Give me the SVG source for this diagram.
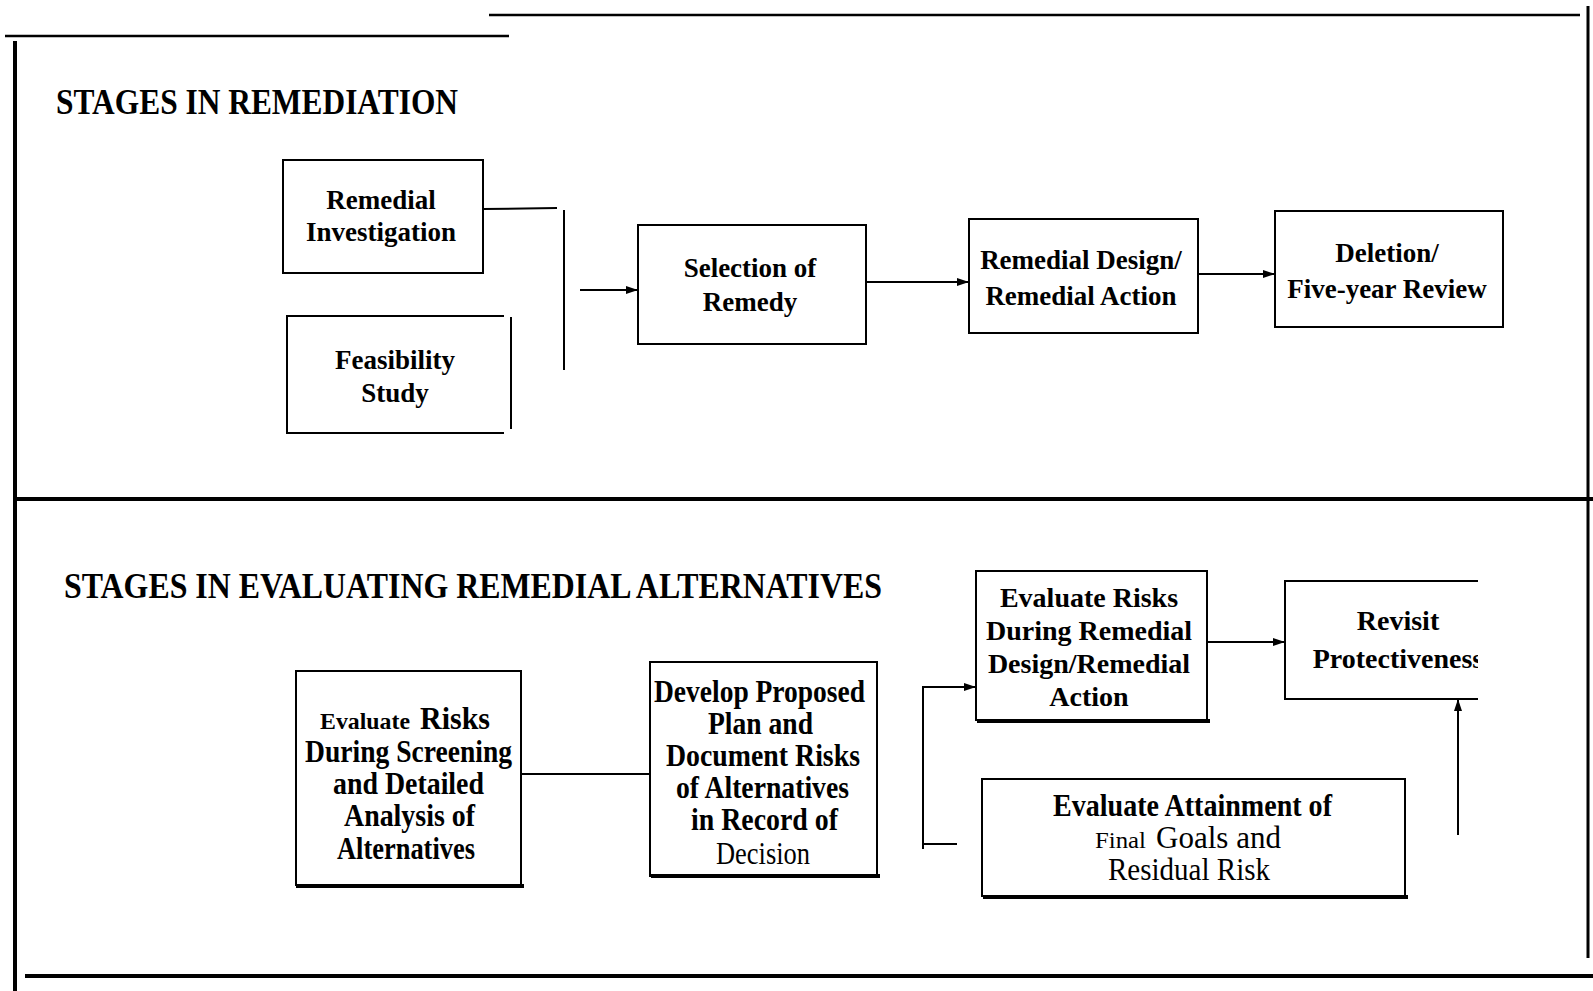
<svg xmlns="http://www.w3.org/2000/svg" width="1593" height="991" viewBox="0 0 1593 991">
<style>
.bg{fill:#fff}
.frame{stroke:#000;fill:none;stroke-linecap:butt}
.box{fill:none;stroke:#000;stroke-width:2}
.thick{stroke:#000;stroke-width:4;fill:none}
.conn{stroke:#000;stroke-width:2;fill:none}
.h{font-family:"Liberation Serif",serif;font-weight:bold;font-size:36px;fill:#000}
.t1{font-family:"Liberation Serif",serif;font-weight:bold;font-size:27px;text-anchor:middle;fill:#000}
.t2{font-family:"Liberation Serif",serif;font-weight:bold;font-size:28px;text-anchor:middle;fill:#000}
.b{font-family:"Liberation Serif",serif;font-weight:bold;font-size:31px;fill:#000}
.bs{font-family:"Liberation Serif",serif;font-weight:bold;font-size:24px;fill:#000}
.r{font-family:"Liberation Serif",serif;font-weight:normal;font-size:31px;fill:#000}
.rs{font-family:"Liberation Serif",serif;font-weight:normal;font-size:24px;fill:#000}
</style>
<defs>
<marker id="arr" markerUnits="userSpaceOnUse" markerWidth="12" markerHeight="8" refX="12" refY="4" orient="auto">
<path d="M0,0 L12,4 L0,8 z" fill="#000"/>
</marker>
<clipPath id="revclip"><rect x="1280" y="570" width="198" height="140"/></clipPath>
</defs>
<rect class="bg" x="0" y="0" width="1593" height="991"/>

<g id="frame">
<line class="frame" x1="489" y1="15" x2="1580" y2="15" stroke-width="2.5"/>
<line class="frame" x1="5" y1="36" x2="509" y2="36" stroke-width="2.5"/>
<line class="frame" x1="15" y1="41" x2="15" y2="991" stroke-width="4"/>
<line class="frame" x1="1588" y1="6" x2="1588" y2="958" stroke-width="3"/>
<line class="frame" x1="15" y1="499" x2="1593" y2="499" stroke-width="4"/>
<line class="frame" x1="25" y1="976" x2="1593" y2="976" stroke-width="4"/>
</g>

<g id="headers">
<text class="h" x="56" y="114" textLength="402" lengthAdjust="spacingAndGlyphs">STAGES IN REMEDIATION</text>
<text class="h" x="64" y="598" textLength="818" lengthAdjust="spacingAndGlyphs">STAGES IN EVALUATING REMEDIAL ALTERNATIVES</text>
</g>

<g id="node-remedial-investigation">
<rect class="box" x="283" y="160" width="200" height="113"/>
<text class="t1" x="381" y="209">Remedial</text>
<text class="t1" x="381" y="241">Investigation</text>
</g>

<g id="node-feasibility-study">
<path class="box" d="M504,316 H287 V433 H504"/>
<line class="box" x1="511" y1="317" x2="511" y2="429"/>
<text class="t1" x="395" y="369">Feasibility</text>
<text class="t1" x="395" y="402">Study</text>
</g>

<g id="node-selection-of-remedy">
<rect class="box" x="638" y="225" width="228" height="119"/>
<text class="t1" x="750" y="277">Selection of</text>
<text class="t1" x="750" y="311">Remedy</text>
</g>

<g id="node-remedial-design">
<rect class="box" x="969" y="219" width="229" height="114"/>
<text class="t1" x="1081" y="269">Remedial Design/</text>
<text class="t1" x="1081" y="305">Remedial Action</text>
</g>

<g id="node-deletion">
<rect class="box" x="1275" y="211" width="228" height="116"/>
<text class="t1" x="1387" y="262">Deletion/</text>
<text class="t1" x="1387" y="298">Five-year Review</text>
</g>

<g id="node-evaluate-screening">
<rect class="box" x="296" y="671" width="225" height="214"/>
<line class="thick" x1="296" y1="886" x2="524" y2="886"/>
<text class="bs" x="320" y="729" textLength="90" lengthAdjust="spacingAndGlyphs">Evaluate</text>
<text class="b" x="420" y="729" textLength="70" lengthAdjust="spacingAndGlyphs">Risks</text>
<text class="b" x="305" y="762" textLength="207" lengthAdjust="spacingAndGlyphs">During Screening</text>
<text class="b" x="333" y="794" textLength="151" lengthAdjust="spacingAndGlyphs">and Detailed</text>
<text class="b" x="344" y="826" textLength="131" lengthAdjust="spacingAndGlyphs">Analysis of</text>
<text class="b" x="337" y="859" textLength="138" lengthAdjust="spacingAndGlyphs">Alternatives</text>
</g>

<g id="node-develop-plan">
<rect class="box" x="650" y="662" width="227" height="214"/>
<line class="thick" x1="651" y1="876" x2="880" y2="876"/>
<text class="b" x="654" y="702" textLength="211" lengthAdjust="spacingAndGlyphs">Develop Proposed</text>
<text class="b" x="708" y="734" textLength="105" lengthAdjust="spacingAndGlyphs">Plan and</text>
<text class="b" x="666" y="766" textLength="194" lengthAdjust="spacingAndGlyphs">Document Risks</text>
<text class="b" x="676" y="798" textLength="173" lengthAdjust="spacingAndGlyphs">of Alternatives</text>
<text class="b" x="691" y="830" textLength="147" lengthAdjust="spacingAndGlyphs">in Record of</text>
<text class="r" x="716" y="864" textLength="94" lengthAdjust="spacingAndGlyphs">Decision</text>
</g>

<g id="node-evaluate-rd">
<rect class="box" x="976" y="571" width="231" height="149"/>
<line class="thick" x1="977" y1="721" x2="1210" y2="721"/>
<text class="t2" x="1089" y="607">Evaluate Risks</text>
<text class="t2" x="1089" y="640">During Remedial</text>
<text class="t2" x="1089" y="673">Design/Remedial</text>
<text class="t2" x="1089" y="706">Action</text>
</g>

<g id="node-revisit">
<path class="box" d="M1478,581 H1285 V699 H1478"/>
<g clip-path="url(#revclip)">
<text class="t2" x="1398" y="630">Revisit</text>
<text class="t2" x="1398" y="668">Protectiveness</text>
</g>
</g>

<g id="node-evaluate-attainment">
<rect class="box" x="982" y="779" width="423" height="117"/>
<line class="thick" x1="983" y1="897" x2="1408" y2="897"/>
<text class="b" x="1053" y="816" textLength="279" lengthAdjust="spacingAndGlyphs">Evaluate Attainment of</text>
<text class="rs" x="1095" y="848" textLength="51" lengthAdjust="spacingAndGlyphs">Final</text>
<text class="r" x="1156" y="848" textLength="125" lengthAdjust="spacingAndGlyphs">Goals  and</text>
<text class="r" x="1108" y="880" textLength="162" lengthAdjust="spacingAndGlyphs">Residual  Risk</text>
</g>

<g id="connectors">
<line class="conn" x1="483" y1="209" x2="557" y2="208"/>
<line class="conn" x1="564" y1="210" x2="564" y2="370" stroke-width="4"/>
<line class="conn" x1="580" y1="290" x2="638" y2="290" marker-end="url(#arr)"/>
<line class="conn" x1="866" y1="282" x2="969" y2="282" marker-end="url(#arr)"/>
<line class="conn" x1="1198" y1="274" x2="1275" y2="274" marker-end="url(#arr)"/>
<line class="conn" x1="521" y1="774" x2="650" y2="774" stroke-width="3"/>
<path class="conn" d="M923,849 V687 H976" stroke-width="3" marker-end="url(#arr)"/>
<line class="conn" x1="923" y1="844" x2="957" y2="844" stroke-width="1.5"/>
<line class="conn" x1="1207" y1="642" x2="1285" y2="642" stroke-width="2.5" marker-end="url(#arr)"/>
<line class="conn" x1="1458" y1="835" x2="1458" y2="699" stroke-width="3" marker-end="url(#arr)"/>
</g>
</svg>
